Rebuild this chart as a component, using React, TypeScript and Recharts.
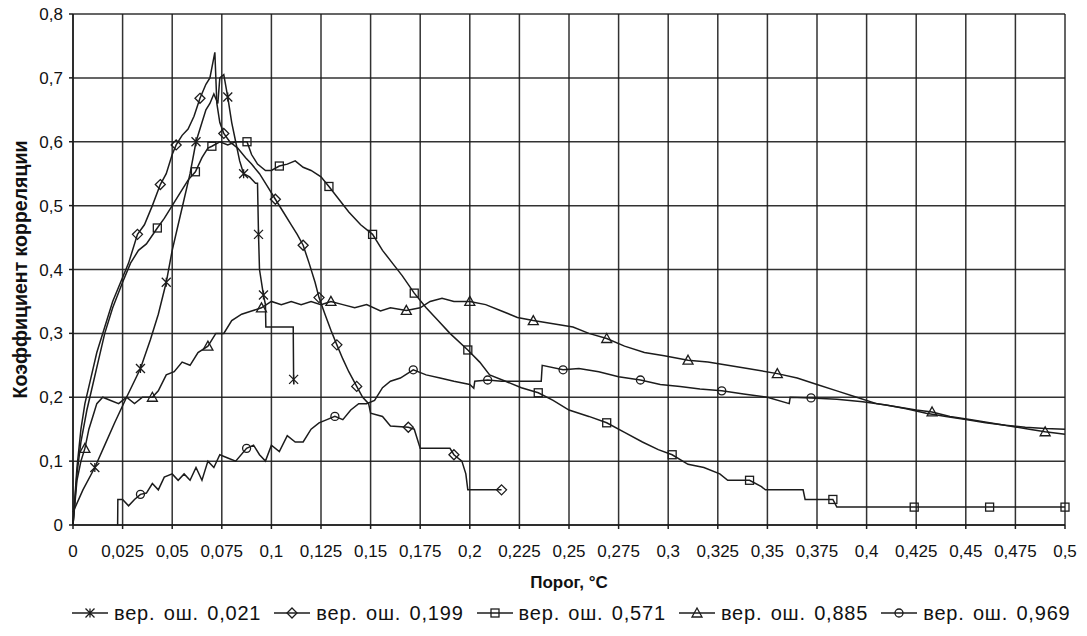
import React from "react";
import { CartesianGrid, Line, LineChart, XAxis, YAxis } from "recharts";

// Порог, °C
const xTicks = [
  0, 0.025, 0.05, 0.075, 0.1, 0.125, 0.15, 0.175, 0.2, 0.225, 0.25, 0.275, 0.3,
  0.325, 0.35, 0.375, 0.4, 0.425, 0.45, 0.475, 0.5,
];
const yTicks = [0, 0.1, 0.2, 0.3, 0.4, 0.5, 0.6, 0.7, 0.8];

const seriesNames = [
  "вер. ош. 0,021",
  "вер. ош. 0,199",
  "вер. ош. 0,571",
  "вер. ош. 0,885",
  "вер. ош. 0,969",
];

// [порог, коэффициент корреляции]
const err021: [number, number][] = [
  [0, 0.02], [0.005, 0.055], [0.011, 0.09], [0.016, 0.125], [0.021, 0.16],
  [0.027, 0.2], [0.034, 0.245], [0.039, 0.29], [0.043, 0.33], [0.047, 0.38],
  [0.05, 0.43], [0.053, 0.47], [0.056, 0.51], [0.059, 0.55], [0.062, 0.6],
  [0.065, 0.63], [0.067, 0.65], [0.069, 0.66], [0.071, 0.675], [0.073, 0.66],
  [0.074, 0.7], [0.076, 0.705], [0.078, 0.67], [0.08, 0.63], [0.082, 0.6],
  [0.084, 0.57], [0.086, 0.55], [0.089, 0.545], [0.092, 0.535], [0.093, 0.535],
  [0.0935, 0.455], [0.094, 0.4], [0.096, 0.36], [0.097, 0.345], [0.0972, 0.31],
  [0.111, 0.31], [0.1112, 0.228], [0.1113, 0.22],
];
const err021Marks = [0.011, 0.034, 0.047, 0.062, 0.078, 0.086, 0.0935, 0.096, 0.1112];

const err199: [number, number][] = [
  [0, 0], [0.002, 0.09], [0.004, 0.15], [0.006, 0.19], [0.009, 0.23],
  [0.012, 0.27], [0.016, 0.31], [0.02, 0.35], [0.024, 0.38], [0.028, 0.41],
  [0.0325, 0.455], [0.036, 0.47], [0.04, 0.5], [0.044, 0.533], [0.047, 0.55],
  [0.05, 0.58], [0.052, 0.595], [0.055, 0.61], [0.058, 0.62], [0.061, 0.64],
  [0.064, 0.668], [0.067, 0.69], [0.069, 0.7], [0.0715, 0.74], [0.0725, 0.66],
  [0.074, 0.63], [0.076, 0.613], [0.079, 0.6], [0.083, 0.59], [0.087, 0.575],
  [0.09, 0.565], [0.094, 0.55], [0.098, 0.53], [0.102, 0.51], [0.106, 0.49],
  [0.11, 0.47], [0.113, 0.455], [0.116, 0.438], [0.119, 0.41], [0.122, 0.38],
  [0.124, 0.356], [0.127, 0.33], [0.13, 0.305], [0.133, 0.282], [0.136, 0.26],
  [0.139, 0.24], [0.143, 0.217], [0.146, 0.2], [0.149, 0.19], [0.15, 0.175],
  [0.156, 0.17], [0.16, 0.155], [0.169, 0.153], [0.172, 0.15], [0.175, 0.12],
  [0.19, 0.12], [0.192, 0.11], [0.196, 0.1], [0.198, 0.08], [0.199, 0.055],
  [0.216, 0.055],
];
const err199Marks = [0.0325, 0.044, 0.052, 0.064, 0.076, 0.102, 0.116, 0.124, 0.133, 0.143, 0.169, 0.192, 0.216];

const err571: [number, number][] = [
  [0, 0], [0.002, 0.08], [0.004, 0.13], [0.007, 0.18], [0.01, 0.22],
  [0.013, 0.26], [0.016, 0.3], [0.02, 0.34], [0.025, 0.38], [0.029, 0.41],
  [0.033, 0.43], [0.037, 0.44], [0.0425, 0.465], [0.046, 0.48], [0.05, 0.5],
  [0.054, 0.52], [0.058, 0.54], [0.0617, 0.553], [0.065, 0.575], [0.068, 0.59],
  [0.07, 0.593], [0.074, 0.6], [0.078, 0.595], [0.082, 0.6], [0.0877, 0.6],
  [0.09, 0.58], [0.093, 0.565], [0.097, 0.555], [0.1, 0.555], [0.104, 0.562],
  [0.108, 0.565], [0.112, 0.57], [0.116, 0.56], [0.12, 0.555], [0.125, 0.545],
  [0.129, 0.53], [0.134, 0.51], [0.139, 0.49], [0.145, 0.47], [0.151, 0.455],
  [0.156, 0.43], [0.161, 0.41], [0.166, 0.39], [0.172, 0.363], [0.178, 0.34],
  [0.184, 0.32], [0.19, 0.3], [0.199, 0.274], [0.205, 0.255], [0.21, 0.235],
  [0.218, 0.225], [0.226, 0.215], [0.2345, 0.207], [0.242, 0.195], [0.25, 0.18],
  [0.26, 0.17], [0.269, 0.16], [0.278, 0.145], [0.287, 0.13], [0.295, 0.118],
  [0.302, 0.11], [0.31, 0.095], [0.318, 0.09], [0.326, 0.08], [0.33, 0.07],
  [0.341, 0.07], [0.347, 0.06], [0.349, 0.055], [0.368, 0.055], [0.369, 0.04],
  [0.383, 0.04], [0.385, 0.028], [0.424, 0.028], [0.462, 0.028], [0.5, 0.028],
];
const err571Marks = [0.0425, 0.0617, 0.07, 0.0877, 0.104, 0.129, 0.151, 0.172, 0.199, 0.2345, 0.269, 0.302, 0.341, 0.383, 0.424, 0.462, 0.5];

const err885: [number, number][] = [
  [0, 0], [0.002, 0.07], [0.004, 0.1], [0.006, 0.12], [0.008, 0.15],
  [0.01, 0.17], [0.012, 0.19], [0.015, 0.2], [0.019, 0.195], [0.023, 0.19],
  [0.027, 0.2], [0.031, 0.19], [0.035, 0.2], [0.04, 0.2], [0.043, 0.21],
  [0.047, 0.235], [0.051, 0.24], [0.055, 0.255], [0.059, 0.25], [0.063, 0.27],
  [0.068, 0.28], [0.072, 0.3], [0.076, 0.3], [0.08, 0.32], [0.085, 0.33],
  [0.09, 0.335], [0.095, 0.34], [0.1, 0.35], [0.105, 0.345], [0.11, 0.35],
  [0.115, 0.345], [0.12, 0.35], [0.125, 0.345], [0.13, 0.35], [0.136, 0.345],
  [0.142, 0.34], [0.148, 0.345], [0.155, 0.335], [0.16, 0.34], [0.168, 0.336],
  [0.175, 0.34], [0.18, 0.35], [0.186, 0.355], [0.192, 0.35], [0.2, 0.35],
  [0.208, 0.345], [0.216, 0.335], [0.224, 0.325], [0.232, 0.32], [0.242, 0.315],
  [0.252, 0.31], [0.26, 0.3], [0.269, 0.292], [0.278, 0.28], [0.288, 0.27],
  [0.298, 0.265], [0.31, 0.258], [0.32, 0.255], [0.33, 0.25], [0.34, 0.245],
  [0.355, 0.237], [0.365, 0.23], [0.375, 0.22], [0.385, 0.21], [0.395, 0.2],
  [0.405, 0.19], [0.415, 0.185], [0.425, 0.18], [0.433, 0.177], [0.442, 0.17],
  [0.452, 0.165], [0.462, 0.16], [0.472, 0.155], [0.482, 0.15], [0.49, 0.146],
  [0.5, 0.142],
];
const err885Marks = [0.006, 0.04, 0.068, 0.095, 0.13, 0.168, 0.2, 0.232, 0.269, 0.31, 0.355, 0.433, 0.49];

const err969: [number, number][] = [
  [0.0225, 0], [0.0226, 0.04], [0.025, 0.04], [0.028, 0.03], [0.031, 0.04],
  [0.034, 0.048], [0.037, 0.05], [0.04, 0.065], [0.043, 0.055], [0.046, 0.075],
  [0.05, 0.08], [0.053, 0.07], [0.056, 0.08], [0.059, 0.07], [0.062, 0.09],
  [0.065, 0.07], [0.068, 0.1], [0.071, 0.09], [0.074, 0.11], [0.078, 0.105],
  [0.082, 0.1], [0.0875, 0.12], [0.091, 0.125], [0.094, 0.11], [0.097, 0.1],
  [0.1, 0.125], [0.104, 0.115], [0.108, 0.14], [0.112, 0.13], [0.116, 0.13],
  [0.12, 0.15], [0.124, 0.16], [0.128, 0.165], [0.132, 0.17], [0.136, 0.165],
  [0.14, 0.18], [0.144, 0.19], [0.148, 0.19], [0.152, 0.195], [0.156, 0.215],
  [0.16, 0.225], [0.165, 0.23], [0.1715, 0.243], [0.178, 0.235], [0.185, 0.23],
  [0.192, 0.225], [0.2, 0.22], [0.202, 0.214], [0.2025, 0.225], [0.209, 0.227],
  [0.216, 0.225], [0.225, 0.225], [0.236, 0.225], [0.2365, 0.25], [0.247, 0.243],
  [0.255, 0.245], [0.265, 0.24], [0.275, 0.232], [0.286, 0.227], [0.296, 0.22],
  [0.306, 0.217], [0.316, 0.213], [0.327, 0.21], [0.338, 0.205], [0.35, 0.2],
  [0.361, 0.19], [0.3615, 0.2], [0.372, 0.199], [0.385, 0.197], [0.398, 0.193],
  [0.41, 0.188], [0.42, 0.182], [0.43, 0.175], [0.44, 0.17], [0.45, 0.165],
  [0.46, 0.16], [0.47, 0.156], [0.48, 0.153], [0.49, 0.151], [0.5, 0.15],
];
const err969Marks = [0.034, 0.0875, 0.132, 0.1715, 0.209, 0.247, 0.286, 0.327, 0.372];

const INK = "#1c1c1c";
const FONT = "'Liberation Sans', Arial, sans-serif";

type Shape = "star" | "diamond" | "square" | "triangle" | "circle";

const series: { name: string; points: [number, number][]; marks: number[]; shape: Shape }[] = [
  { name: seriesNames[0], points: err021, marks: err021Marks, shape: "star" },
  { name: seriesNames[1], points: err199, marks: err199Marks, shape: "diamond" },
  { name: seriesNames[2], points: err571, marks: err571Marks, shape: "square" },
  { name: seriesNames[3], points: err885, marks: err885Marks, shape: "triangle" },
  { name: seriesNames[4], points: err969, marks: err969Marks, shape: "circle" },
];

function Marker({ shape, cx, cy }: { shape: Shape; cx: number; cy: number }) {
  const s = 4.5;
  const st = { fill: "none", stroke: INK, strokeWidth: 1.3 };
  if (shape === "star")
    return (
      <path
        {...st}
        d={`M${cx - s},${cy - s}L${cx + s},${cy + s}M${cx - s},${cy + s}L${cx + s},${cy - s}M${cx},${cy - s}L${cx},${cy + s}`}
      />
    );
  if (shape === "diamond")
    return <path {...st} d={`M${cx},${cy - 5}L${cx + 5},${cy}L${cx},${cy + 5}L${cx - 5},${cy}Z`} />;
  if (shape === "square") return <rect {...st} x={cx - 4} y={cy - 4} width={8} height={8} />;
  if (shape === "triangle")
    return <path {...st} d={`M${cx},${cy - 5}L${cx + 5},${cy + 4}L${cx - 5},${cy + 4}Z`} />;
  return <circle {...st} cx={cx} cy={cy} r={4} />;
}

const fmt = (v: number) => String(v).replace(".", ",");

export default function App() {
  return (
    <div
      style={{ position: "absolute", left: 0, top: 0, width: 1087, height: 636, fontFamily: FONT, overflow: "hidden" }}
    >
      <LineChart width={1087} height={636} margin={{ top: 14, right: 22, bottom: 31, left: 0 }}>
        <CartesianGrid stroke={INK} strokeWidth={1.5} strokeOpacity={0.9} />
        <XAxis
          type="number"
          dataKey="x"
          domain={[0, 0.5]}
          ticks={xTicks}
          tickFormatter={fmt}
          interval={0}
          height={80}
          stroke={INK}
          strokeWidth={1.5}
          tickSize={4}
          tickMargin={16}
          tick={{ fontSize: 17, fill: "#111", fontFamily: FONT }}
          label={{
            value: "Порог, °C",
            position: "insideBottom",
            offset: 17,
            style: { fontSize: 17, fontWeight: "bold", fill: "#111", fontFamily: FONT },
          }}
        />
        <YAxis
          type="number"
          domain={[0, 0.8]}
          ticks={yTicks}
          tickFormatter={fmt}
          interval={0}
          width={73}
          stroke={INK}
          strokeWidth={1.5}
          tickSize={4}
          tickMargin={6}
          tick={{ fontSize: 17, fill: "#111", fontFamily: FONT }}
          label={{
            value: "Коэффициент корреляции",
            angle: -90,
            position: "insideLeft",
            offset: 20,
            style: { textAnchor: "middle", fontSize: 19.5, fontWeight: "bold", fill: "#111", fontFamily: FONT },
          }}
        />
        {series.map((s) => (
          <Line
            key={s.name}
            name={s.name}
            data={s.points.map(([x, y]) => ({ x, y }))}
            dataKey="y"
            type="linear"
            stroke={INK}
            strokeWidth={1.5}
            activeDot={false}
            isAnimationActive={false}
            dot={(p: any) =>
              s.marks.includes(p.payload.x) ? (
                <Marker key={p.index} shape={s.shape} cx={p.cx} cy={p.cy} />
              ) : (
                <g key={p.index} />
              )
            }
          />
        ))}
      </LineChart>
      <div
        style={{
          position: "absolute",
          left: 70,
          top: 602,
          display: "flex",
          whiteSpace: "nowrap",
          fontSize: 20,
          letterSpacing: 0.8,
          wordSpacing: 2,
          color: "#111",
          lineHeight: "22px",
        }}
      >
        {series.map((s, i) => (
          <div key={s.name} style={{ display: "flex", alignItems: "center", marginRight: i < 4 ? 11 : 0 }}>
            <svg width={40} height={22}>
              <line x1={2} x2={38} y1={11} y2={11} stroke={INK} strokeWidth={1.5} />
              <Marker shape={s.shape} cx={20} cy={11} />
            </svg>
            <span style={{ marginLeft: 4 }}>{s.name}</span>
          </div>
        ))}
      </div>
    </div>
  );
}
